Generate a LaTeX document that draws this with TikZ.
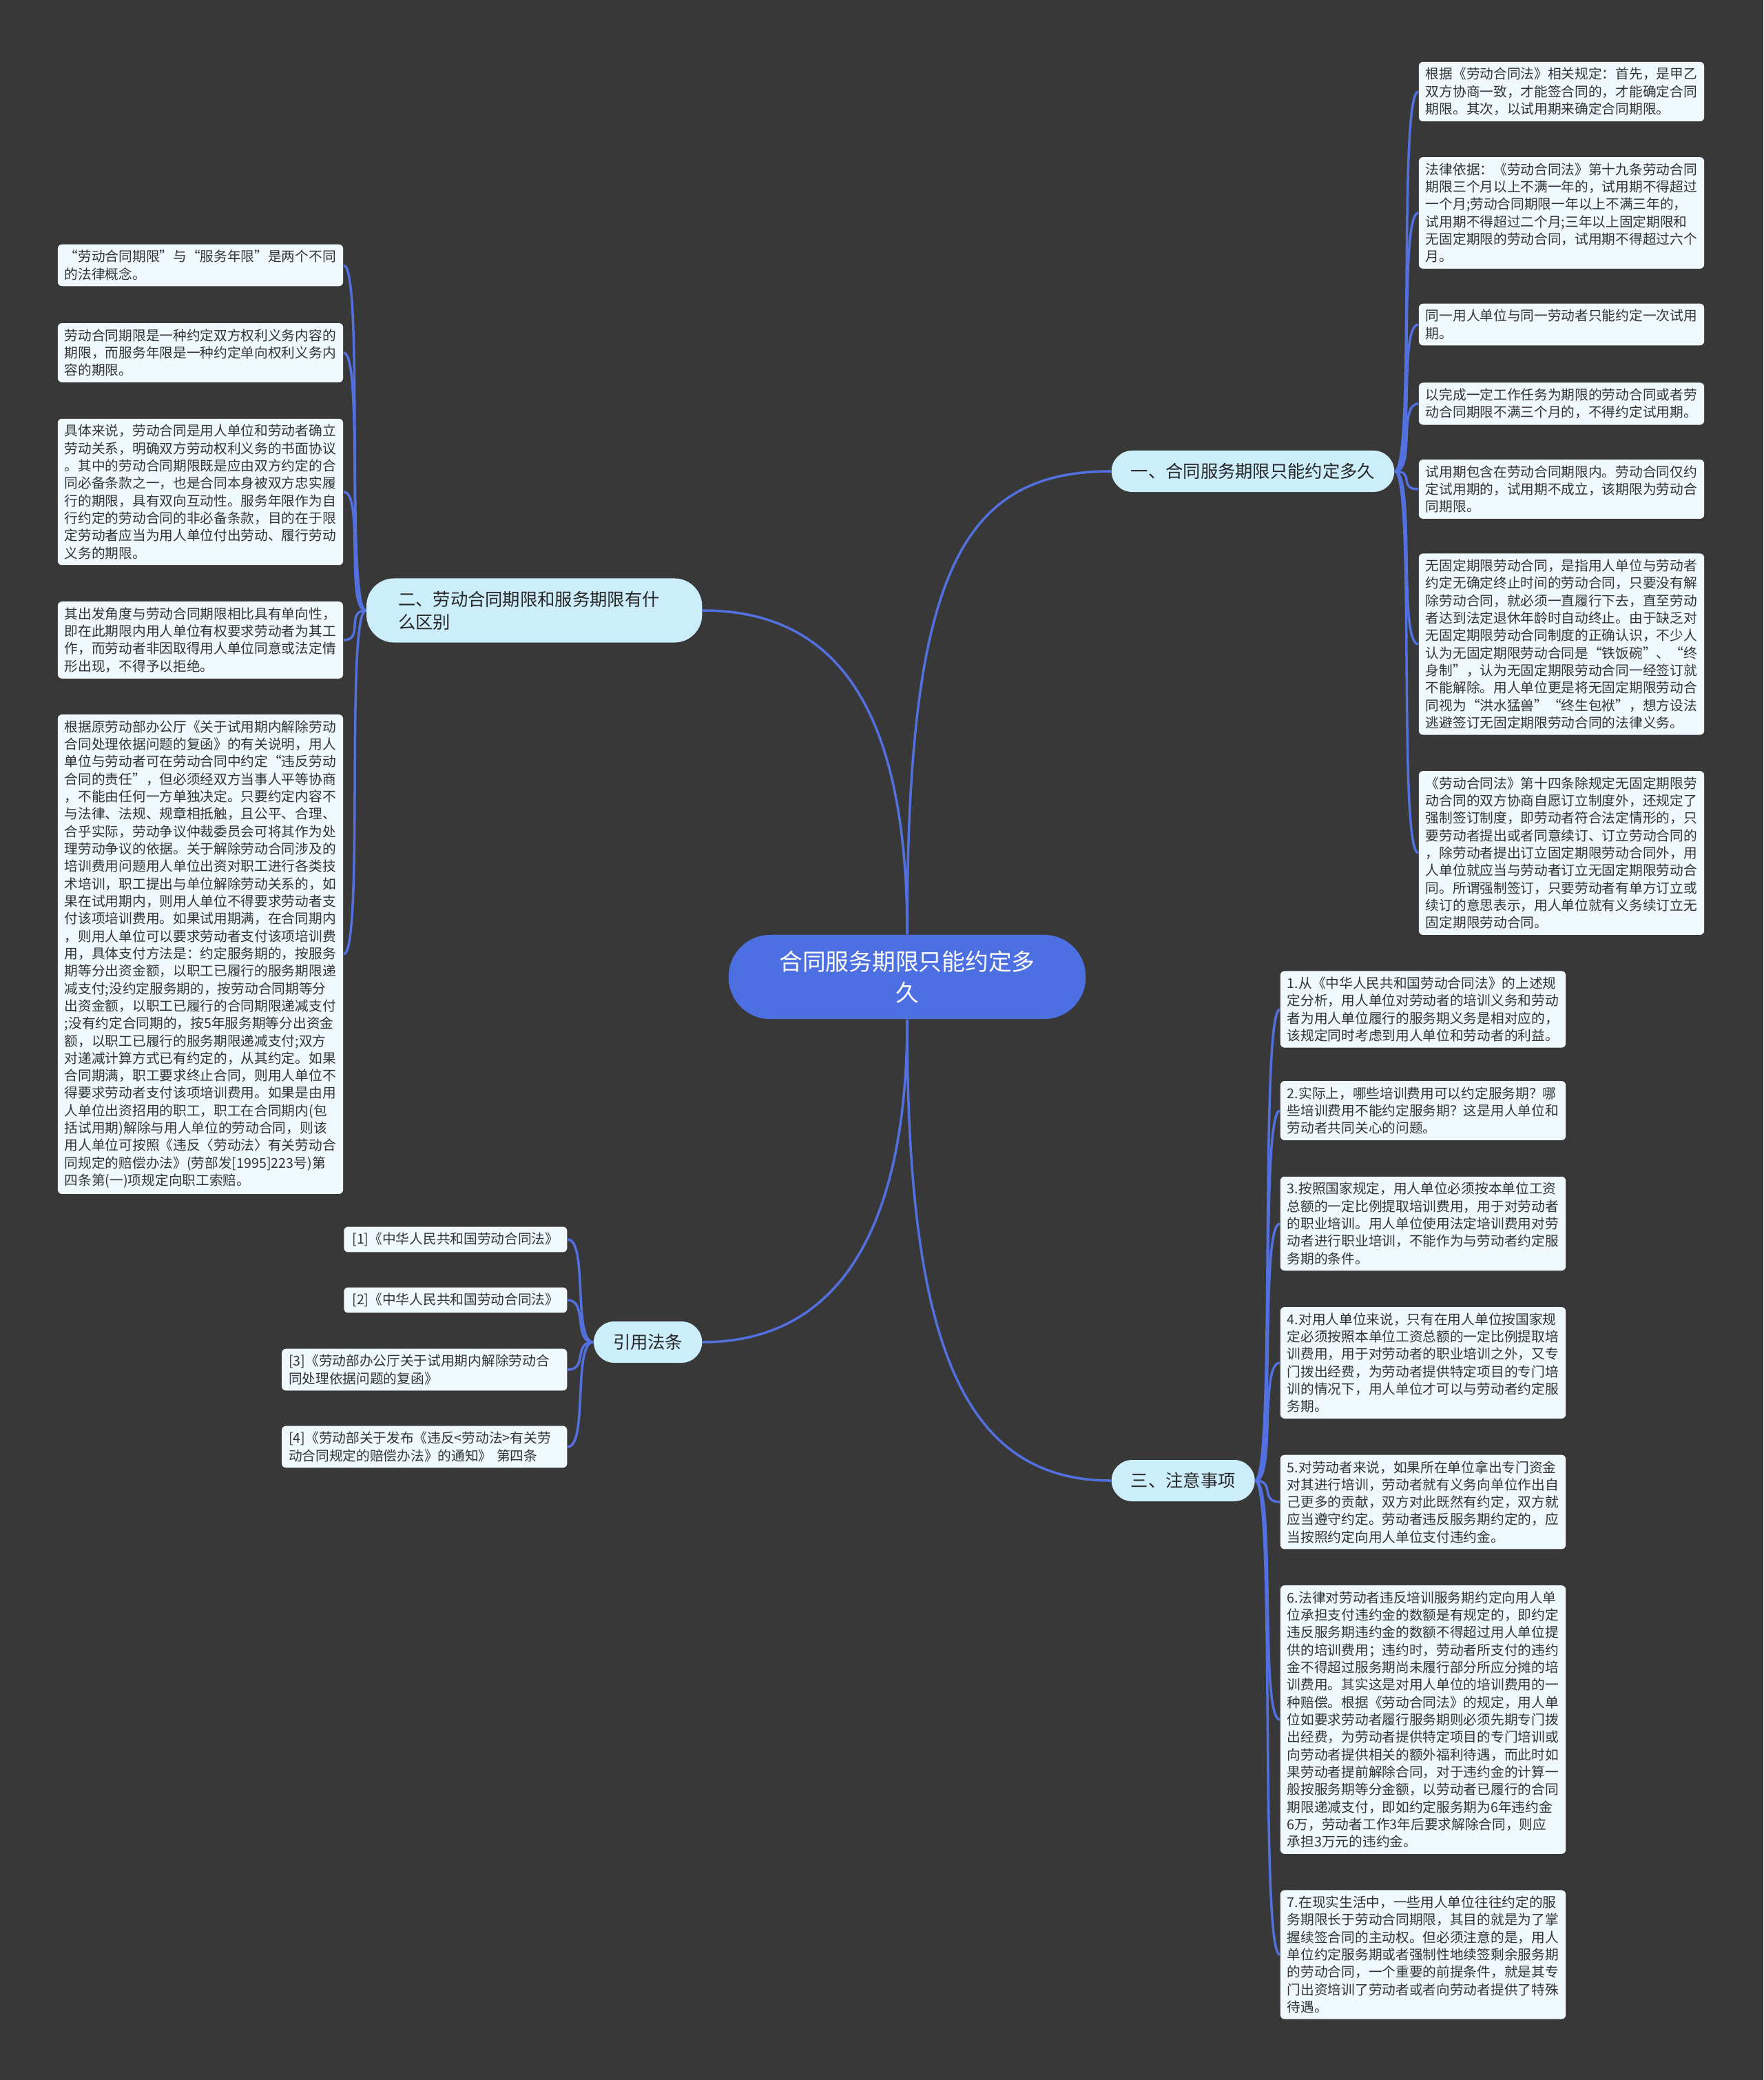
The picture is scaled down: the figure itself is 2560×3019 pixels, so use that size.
\documentclass[tikz,border=0pt]{standalone}
\usepackage{fontspec}
\setmainfont{Noto Sans CJK SC}

\definecolor{bgdark}{RGB}{57,56,57}
\definecolor{linkblue}{RGB}{82,112,222}
\definecolor{rootblue}{RGB}{76,111,225}
\definecolor{branchfill}{RGB}{204,238,251}
\definecolor{leaffill}{RGB}{240,250,254}
\definecolor{inktext}{RGB}{51,51,51}

\begin{document}
\begin{tikzpicture}[x=0.01cm, y=-0.01cm,
    root/.style={fill=rootblue, text=white, rounded corners=0.6cm,
        minimum width=5.18cm, minimum height=1.22cm, align=center,
        font=\fontsize{9.6pt}{13pt}\selectfont},
    branch/.style={fill=branchfill, text=black!85, rounded corners=0.3cm,
        inner xsep=0.28cm, minimum height=0.6cm,
        font=\fontsize{7.2pt}{9.4pt}\selectfont},
    leaf/.style={fill=leaffill, text=inktext, rounded corners=0.06cm,
        text width=3.94cm, align=left, inner xsep=0.1cm, inner ysep=2.4pt,
        font=\fontsize{5.6pt}{7.2pt}\selectfont},
    ref/.style={leaf, text width=, inner xsep=0.12cm},
    link/.style={draw=linkblue, line width=1pt}]

    \fill[bgdark] (0, 0) rectangle (2560, 3019);

    % centre and main branches
    \node (root) at (1317, 1418) [root] {合同服务期限只能约定多\\久};

    \node (1-0) at (1613, 684) [branch, anchor=west] {一、合同服务期限只能约定多久};
    \node (2-0) at (1020, 886) [branch, anchor=east, text width=3.95cm, align=left,
        inner xsep=0.46cm, minimum height=0.93cm, rounded corners=0.4cm] {二、劳动合同期限和服务期限有什\\么区别};
    \node (4-0) at (1020, 1948) [branch, anchor=east] {引用法条};
    \node (3-0) at (1613, 2149) [branch, anchor=west] {三、注意事项};

    % branch 1
    \node (1-1) at (2267, 133) [leaf] {根据《劳动合同法》相关规定：首先，是甲乙\\双方协商一致，才能签合同的，才能确定合同\\期限。其次，以试用期来确定合同期限。};
    \node (1-2) at (2267, 309) [leaf] {法律依据：《劳动合同法》第十九条劳动合同\\期限三个月以上不满一年的，试用期不得超过\\一个月;劳动合同期限一年以上不满三年的，\\试用期不得超过二个月;三年以上固定期限和\\无固定期限的劳动合同，试用期不得超过六个\\月。};
    \node (1-3) at (2267, 471) [leaf] {同一用人单位与同一劳动者只能约定一次试用\\期。};
    \node (1-4) at (2267, 586) [leaf] {以完成一定工作任务为期限的劳动合同或者劳\\动合同期限不满三个月的，不得约定试用期。};
    \node (1-5) at (2267, 710) [leaf] {试用期包含在劳动合同期限内。劳动合同仅约\\定试用期的，试用期不成立，该期限为劳动合\\同期限。};
    \node (1-6) at (2267, 935) [leaf] {无固定期限劳动合同，是指用人单位与劳动者\\约定无确定终止时间的劳动合同，只要没有解\\除劳动合同，就必须一直履行下去，直至劳动\\者达到法定退休年龄时自动终止。由于缺乏对\\无固定期限劳动合同制度的正确认识，不少人\\认为无固定期限劳动合同是“铁饭碗”、“终\\身制”，认为无固定期限劳动合同一经签订就\\不能解除。用人单位更是将无固定期限劳动合\\同视为“洪水猛兽”“终生包袱”，想方设法\\逃避签订无固定期限劳动合同的法律义务。};
    \node (1-7) at (2267, 1238) [leaf] {《劳动合同法》第十四条除规定无固定期限劳\\动合同的双方协商自愿订立制度外，还规定了\\强制签订制度，即劳动者符合法定情形的，只\\要劳动者提出或者同意续订、订立劳动合同的\\，除劳动者提出订立固定期限劳动合同外，用\\人单位就应当与劳动者订立无固定期限劳动合\\同。所谓强制签订，只要劳动者有单方订立或\\续订的意思表示，用人单位就有义务续订立无\\固定期限劳动合同。};

    % branch 2
    \node (2-1) at (291, 385) [leaf] {“劳动合同期限”与“服务年限”是两个不同\\的法律概念。};
    \node (2-2) at (291, 512) [leaf] {劳动合同期限是一种约定双方权利义务内容的\\期限，而服务年限是一种约定单向权利义务内\\容的期限。};
    \node (2-3) at (291, 714) [leaf] {具体来说，劳动合同是用人单位和劳动者确立\\劳动关系，明确双方劳动权利义务的书面协议\\。其中的劳动合同期限既是应由双方约定的合\\同必备条款之一，也是合同本身被双方忠实履\\行的期限，具有双向互动性。服务年限作为自\\行约定的劳动合同的非必备条款，目的在于限\\定劳动者应当为用人单位付出劳动、履行劳动\\义务的期限。};
    \node (2-4) at (291, 929) [leaf] {其出发角度与劳动合同期限相比具有单向性，\\即在此期限内用人单位有权要求劳动者为其工\\作，而劳动者非因取得用人单位同意或法定情\\形出现，不得予以拒绝。};
    \node (2-5) at (291, 1385) [leaf] {根据原劳动部办公厅《关于试用期内解除劳动\\合同处理依据问题的复函》的有关说明，用人\\单位与劳动者可在劳动合同中约定“违反劳动\\合同的责任”，但必须经双方当事人平等协商\\，不能由任何一方单独决定。只要约定内容不\\与法律、法规、规章相抵触，且公平、合理、\\合乎实际，劳动争议仲裁委员会可将其作为处\\理劳动争议的依据。关于解除劳动合同涉及的\\培训费用问题用人单位出资对职工进行各类技\\术培训，职工提出与单位解除劳动关系的，如\\果在试用期内，则用人单位不得要求劳动者支\\付该项培训费用。如果试用期满，在合同期内\\，则用人单位可以要求劳动者支付该项培训费\\用，具体支付方法是：约定服务期的，按服务\\期等分出资金额，以职工已履行的服务期限递\\减支付;没约定服务期的，按劳动合同期等分\\出资金额，以职工已履行的合同期限递减支付\\;没有约定合同期的，按5年服务期等分出资金\\额，以职工已履行的服务期限递减支付;双方\\对递减计算方式已有约定的，从其约定。如果\\合同期满，职工要求终止合同，则用人单位不\\得要求劳动者支付该项培训费用。如果是由用\\人单位出资招用的职工，职工在合同期内(包\\括试用期)解除与用人单位的劳动合同，则该\\用人单位可按照《违反〈劳动法〉有关劳动合\\同规定的赔偿办法》(劳部发[1995]223号)第\\四条第(一)项规定向职工索赔。};

    % references
    \node (4-1) at (824, 1799) [ref, anchor=east] {[1]《中华人民共和国劳动合同法》};
    \node (4-2) at (824, 1887) [ref, anchor=east] {[2]《中华人民共和国劳动合同法》};
    \node (4-3) at (824, 1988) [leaf, anchor=east] {[3]《劳动部办公厅关于试用期内解除劳动合\\同处理依据问题的复函》};
    \node (4-4) at (824, 2100) [leaf, anchor=east] {[4]《劳动部关于发布《违反<劳动法>有关劳\\动合同规定的赔偿办法》的通知》 第四条};

    % branch 3
    \node (3-1) at (2066, 1465) [leaf] {1.从《中华人民共和国劳动合同法》的上述规\\定分析，用人单位对劳动者的培训义务和劳动\\者为用人单位履行的服务期义务是相对应的，\\该规定同时考虑到用人单位和劳动者的利益。};
    \node (3-2) at (2066, 1612) [leaf] {2.实际上，哪些培训费用可以约定服务期？哪\\些培训费用不能约定服务期？这是用人单位和\\劳动者共同关心的问题。};
    \node (3-3) at (2066, 1776) [leaf] {3.按照国家规定，用人单位必须按本单位工资\\总额的一定比例提取培训费用，用于对劳动者\\的职业培训。用人单位使用法定培训费用对劳\\动者进行职业培训，不能作为与劳动者约定服\\务期的条件。};
    \node (3-4) at (2066, 1978) [leaf] {4.对用人单位来说，只有在用人单位按国家规\\定必须按照本单位工资总额的一定比例提取培\\训费用，用于对劳动者的职业培训之外，又专\\门拨出经费，为劳动者提供特定项目的专门培\\训的情况下，用人单位才可以与劳动者约定服\\务期。};
    \node (3-5) at (2066, 2180) [leaf] {5.对劳动者来说，如果所在单位拿出专门资金\\对其进行培训，劳动者就有义务向单位作出自\\己更多的贡献，双方对此既然有约定，双方就\\应当遵守约定。劳动者违反服务期约定的，应\\当按照约定向用人单位支付违约金。};
    \node (3-6) at (2066, 2496) [leaf] {6.法律对劳动者违反培训服务期约定向用人单\\位承担支付违约金的数额是有规定的，即约定\\违反服务期违约金的数额不得超过用人单位提\\供的培训费用；违约时，劳动者所支付的违约\\金不得超过服务期尚未履行部分所应分摊的培\\训费用。其实这是对用人单位的培训费用的一\\种赔偿。根据《劳动合同法》的规定，用人单\\位如要求劳动者履行服务期则必须先期专门拨\\出经费，为劳动者提供特定项目的专门培训或\\向劳动者提供相关的额外福利待遇，而此时如\\果劳动者提前解除合同，对于违约金的计算一\\般按服务期等分金额，以劳动者已履行的合同\\期限递减支付，即如约定服务期为6年违约金\\6万，劳动者工作3年后要求解除合同，则应\\承担3万元的违约金。};
    \node (3-7) at (2066, 2837) [leaf] {7.在现实生活中，一些用人单位往往约定的服\\务期限长于劳动合同期限，其目的就是为了掌\\握续签合同的主动权。但必须注意的是，用人\\单位约定服务期或者强制性地续签剩余服务期\\的劳动合同，一个重要的前提条件，就是其专\\门出资培训了劳动者或者向劳动者提供了特殊\\待遇。};

    % links from the centre
    \draw[link] (root.north) .. controls +(0, -520) and +(-220, 0) .. (1-0.west);
    \draw[link] (root.north) .. controls +(0, -320) and +(200, 0) .. (2-0.east);
    \draw[link] (root.south) .. controls +(0, 300) and +(200, 0) .. (4-0.east);
    \draw[link] (root.south) .. controls +(0, 460) and +(-220, 0) .. (3-0.west);

    % links to the leaves
    \draw[link] (1-0.east) .. controls +(30, 0) and +(-30, 0) .. (1-1.west);
    \draw[link] (1-0.east) .. controls +(30, 0) and +(-30, 0) .. (1-2.west);
    \draw[link] (1-0.east) .. controls +(30, 0) and +(-30, 0) .. (1-3.west);
    \draw[link] (1-0.east) .. controls +(30, 0) and +(-30, 0) .. (1-4.west);
    \draw[link] (1-0.east) .. controls +(30, 0) and +(-30, 0) .. (1-5.west);
    \draw[link] (1-0.east) .. controls +(30, 0) and +(-30, 0) .. (1-6.west);
    \draw[link] (1-0.east) .. controls +(30, 0) and +(-30, 0) .. (1-7.west);

    \draw[link] (2-0.west) .. controls +(-30, 0) and +(30, 0) .. (2-1.east);
    \draw[link] (2-0.west) .. controls +(-30, 0) and +(30, 0) .. (2-2.east);
    \draw[link] (2-0.west) .. controls +(-30, 0) and +(30, 0) .. (2-3.east);
    \draw[link] (2-0.west) .. controls +(-30, 0) and +(30, 0) .. (2-4.east);
    \draw[link] (2-0.west) .. controls +(-30, 0) and +(30, 0) .. (2-5.east);

    \draw[link] (4-0.west) .. controls +(-30, 0) and +(30, 0) .. (4-1.east);
    \draw[link] (4-0.west) .. controls +(-30, 0) and +(30, 0) .. (4-2.east);
    \draw[link] (4-0.west) .. controls +(-30, 0) and +(30, 0) .. (4-3.east);
    \draw[link] (4-0.west) .. controls +(-30, 0) and +(30, 0) .. (4-4.east);

    \draw[link] (3-0.east) .. controls +(30, 0) and +(-30, 0) .. (3-1.west);
    \draw[link] (3-0.east) .. controls +(30, 0) and +(-30, 0) .. (3-2.west);
    \draw[link] (3-0.east) .. controls +(30, 0) and +(-30, 0) .. (3-3.west);
    \draw[link] (3-0.east) .. controls +(30, 0) and +(-30, 0) .. (3-4.west);
    \draw[link] (3-0.east) .. controls +(30, 0) and +(-30, 0) .. (3-5.west);
    \draw[link] (3-0.east) .. controls +(30, 0) and +(-30, 0) .. (3-6.west);
    \draw[link] (3-0.east) .. controls +(30, 0) and +(-30, 0) .. (3-7.west);

\end{tikzpicture}
\end{document}
